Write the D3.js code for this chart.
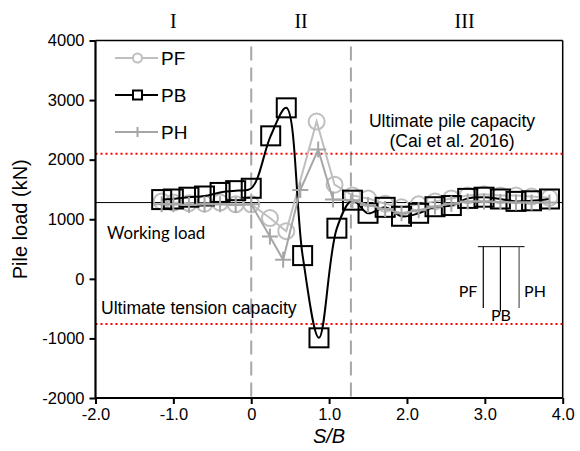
<!DOCTYPE html>
<html>
<head>
<meta charset="utf-8">
<script src="https://d3js.org/d3.v7.min.js"></script>
<style>
	body { margin: 0; background: #fff; }
	svg { display: block; }
</style>
</head>
<body>
<script>
	// PF = gray circles, PB = black squares, PH = gray plus
	var pfX = [-1.15, -1.0, -0.8, -0.6, -0.4, -0.2, 0.0, 0.24, 0.45, 0.84, 1.07, 1.3, 1.5, 1.72, 1.93, 2.15, 2.36, 2.57, 2.78, 2.99, 3.2, 3.4, 3.6, 3.83];
	var pfY = [1300, 1280, 1270, 1260, 1280, 1250, 1250, 1020, 800, 2640, 1580, 1400, 1350, 1260, 1200, 1250, 1300, 1350, 1400, 1420, 1400, 1400, 1380, 1360];
	var pbX = [-1.15, -1.0, -0.8, -0.6, -0.4, -0.2, 0.0, 0.25, 0.45, 0.66, 0.87, 1.1, 1.3, 1.5, 1.72, 1.93, 2.15, 2.36, 2.57, 2.78, 2.99, 3.2, 3.4, 3.6, 3.83];
	var pbY = [1330, 1340, 1370, 1390, 1450, 1480, 1520, 2400, 2870, 390, -990, 850, 1320, 1100, 1200, 1050, 1100, 1210, 1230, 1350, 1370, 1340, 1300, 1310, 1340];
	var phX = [-1.15, -1.0, -0.8, -0.6, -0.4, -0.2, 0.0, 0.24, 0.41, 0.63, 0.86, 1.05, 1.3, 1.5, 1.72, 1.93, 2.15, 2.36, 2.57, 2.78, 2.99, 3.2, 3.4, 3.6, 3.83];
	var phY = [1250, 1250, 1240, 1250, 1250, 1240, 1250, 710, 320, 1490, 2170, 1330, 1320, 1240, 1170, 1100, 1150, 1215, 1260, 1300, 1300, 1290, 1280, 1280, 1280];

	var xTicks = [-2, -1, 0, 1, 2, 3, 4];
	var xTickLabels = ["-2.0", "-1.0", "0", "1.0", "2.0", "3.0", "4.0"];
	var yTicks = [-2000, -1000, 0, 1000, 2000, 3000, 4000];
	var yTickLabels = ["-2000", "-1000", "0", "1000", "2000", "3000", "4000"];

	var workingLoad = 1280;
	var pileCapacity = 2100;
	var tensionCapacity = -760;
	var zoneBounds = [0, 1.28];
	var zoneNames = ["I", "II", "III"];
	var zoneCenters = [-1.0, 0.64, 2.74];

	// little pile sketch at lower right
	var pileNames = ["PF", "PB", "PH"];
	var pileX = [2.98, 3.2, 3.44];
	var pileTop = 540;
	var pileBottom = [-490, -550, -490];

	var width = 580, height = 451;
	var x = d3.scaleLinear().domain([-2, 4]).range([95.5, 562.7]);
	var y = d3.scaleLinear().domain([-2000, 4000]).range([398, 40.5]);

	var svg = d3.select("body").append("svg")
		.attr("width", width)
		.attr("height", height);

	var gray1 = "#bfbfbf", gray2 = "#a6a6a6";
	var sans = "Liberation Sans, Arial, sans-serif";

	// frame top + right
	svg.append("line").attr("x1", x(-2)).attr("x2", x(4)).attr("y1", y(4000)).attr("y2", y(4000))
		.attr("stroke", "#000").attr("stroke-width", 1.5);
	svg.append("line").attr("x1", x(4)).attr("x2", x(4)).attr("y1", y(4000)).attr("y2", y(-2000))
		.attr("stroke", "#000").attr("stroke-width", 1.5);

	// zone dividers
	svg.selectAll(".zone").data(zoneBounds).enter().append("line")
		.attr("x1", function(d){ return x(d); })
		.attr("x2", function(d){ return x(d); })
		.attr("y1", y(4000) + 6).attr("y2", y(-2000))
		.attr("stroke", gray2).attr("stroke-width", 2)
		.attr("stroke-dasharray", "14,7");

	svg.selectAll(".zname").data(zoneNames).enter().append("text")
		.attr("x", function(d, i){ return x(zoneCenters[i]); })
		.attr("y", 28)
		.attr("text-anchor", "middle")
		.attr("font-family", "Liberation Serif, serif")
		.attr("font-size", 20)
		.text(function(d){ return d; });

	// capacity lines
	[pileCapacity, tensionCapacity].forEach(function(v){
		svg.append("line").attr("x1", x(-2)).attr("x2", x(4)).attr("y1", y(v)).attr("y2", y(v))
			.attr("stroke", "#ff0000").attr("stroke-width", 2).attr("stroke-dasharray", "2,3");
	});
	svg.append("line").attr("x1", x(-2)).attr("x2", x(4)).attr("y1", y(workingLoad)).attr("y2", y(workingLoad))
		.attr("stroke", "#000").attr("stroke-width", 1);

	var txt = svg.append("g").attr("font-family", sans).attr("font-size", 17.6);
	txt.append("text").attr("x", 452).attr("y", 127).attr("text-anchor", "middle").text("Ultimate pile capacity");
	txt.append("text").attr("x", 452).attr("y", 147).attr("text-anchor", "middle").text("(Cai et al. 2016)");
	txt.append("text").attr("x", 101).attr("y", 314).text("Ultimate tension capacity");
	svg.append("text").attr("x", 107).attr("y", 239)
		.attr("font-family", "Lato, sans-serif").attr("font-size", 16.8).text("Working load");

	// pile sketch
	svg.append("line").attr("x1", x(2.91)).attr("x2", x(3.51)).attr("y1", y(pileTop)).attr("y2", y(pileTop))
		.attr("stroke", "#000").attr("stroke-width", 1);
	svg.selectAll(".pile").data(pileX).enter().append("line")
		.attr("x1", function(d){ return x(d); }).attr("x2", function(d){ return x(d); })
		.attr("y1", y(pileTop))
		.attr("y2", function(d, i){ return y(pileBottom[i]); })
		.attr("stroke", function(d, i){ return i == 2 ? "#555" : "#000"; })
		.attr("stroke-width", 1.2);
	var pileLabelX = [468, 501, 535];
	var pileLabelY = [297, 321, 297];
	svg.selectAll(".plab").data(pileNames).enter().append("text")
		.attr("x", function(d, i){ return pileLabelX[i]; })
		.attr("y", function(d, i){ return pileLabelY[i]; })
		.attr("text-anchor", "middle")
		.attr("font-family", "Lato, sans-serif").attr("font-size", 16)
		.text(function(d){ return d; });

	// series
	function pts(xs, ys){ return xs.map(function(d, i){ return [d, ys[i]]; }); }
	var pf = pts(pfX, pfY), pb = pts(pbX, pbY), ph = pts(phX, phY);

	var lineLin = d3.line().x(function(d){ return x(d[0]); }).y(function(d){ return y(d[1]); });
	var lineSmooth = d3.line().x(function(d){ return x(d[0]); }).y(function(d){ return y(d[1]); })
		.curve(d3.curveCatmullRom.alpha(0.5));

	svg.append("path").attr("d", lineLin(pf)).attr("fill", "none").attr("stroke", gray1).attr("stroke-width", 2);
	svg.selectAll(".pfm").data(pf).enter().append("circle")
		.attr("cx", function(d){ return x(d[0]); }).attr("cy", function(d){ return y(d[1]); })
		.attr("r", 8).attr("fill", "none").attr("stroke", gray1).attr("stroke-width", 2);

	svg.append("path").attr("d", lineSmooth(pb)).attr("fill", "none").attr("stroke", "#000").attr("stroke-width", 2);
	svg.selectAll(".pbm").data(pb).enter().append("rect")
		.attr("x", function(d){ return x(d[0]) - 9.5; }).attr("y", function(d){ return y(d[1]) - 9.5; })
		.attr("width", 19).attr("height", 19)
		.attr("fill", "none").attr("stroke", "#000").attr("stroke-width", 2);

	svg.append("path").attr("d", lineLin(ph)).attr("fill", "none").attr("stroke", gray2).attr("stroke-width", 2);
	svg.selectAll(".phm").data(ph).enter().append("path")
		.attr("d", function(d){
			var cx = x(d[0]), cy = y(d[1]);
			return "M" + (cx - 8) + "," + cy + "H" + (cx + 8) + "M" + cx + "," + (cy - 8) + "V" + (cy + 8);
		})
		.attr("stroke", gray2).attr("stroke-width", 2);

	// legend
	var leg = svg.append("g");
	var legY = [58, 95, 132];
	leg.append("line").attr("x1", 115).attr("x2", 158).attr("y1", legY[0]).attr("y2", legY[0]).attr("stroke", gray1).attr("stroke-width", 2);
	leg.append("circle").attr("cx", 137.5).attr("cy", legY[0]).attr("r", 4.5).attr("fill", "#fff").attr("stroke", gray1).attr("stroke-width", 2);
	leg.append("line").attr("x1", 115).attr("x2", 158).attr("y1", legY[1]).attr("y2", legY[1]).attr("stroke", "#000").attr("stroke-width", 2);
	leg.append("rect").attr("x", 133).attr("y", legY[1] - 4.5).attr("width", 9).attr("height", 9).attr("fill", "#fff").attr("stroke", "#000").attr("stroke-width", 2);
	leg.append("line").attr("x1", 115).attr("x2", 158).attr("y1", legY[2]).attr("y2", legY[2]).attr("stroke", gray2).attr("stroke-width", 2);
	leg.append("path").attr("d", "M132.5," + legY[2] + "H142.5M137.5," + (legY[2] - 5) + "V" + (legY[2] + 5)).attr("stroke", gray2).attr("stroke-width", 2);
	leg.selectAll("text").data(["PF", "PB", "PH"]).enter().append("text")
		.attr("x", 161).attr("y", function(d, i){ return legY[i] + 6.8; })
		.attr("font-family", sans).attr("font-size", 19)
		.text(function(d){ return d; });

	// axes
	var yAxis = d3.axisLeft(y).tickValues(yTicks).tickSize(6).tickPadding(5)
		.tickFormat(function(d, i){ return yTickLabels[i]; });
	var xAxis = d3.axisBottom(x).tickValues(xTicks).tickSize(6).tickPadding(4)
		.tickFormat(function(d, i){ return xTickLabels[i]; });

	var gy = svg.append("g").attr("transform", "translate(" + x(-2) + ",0)").call(yAxis);
	var gx = svg.append("g").attr("transform", "translate(0," + y(-2000) + ")").call(xAxis);
	[gx, gy].forEach(function(g){
		g.select(".domain").attr("stroke-width", 2.2);
		g.selectAll(".tick line").attr("stroke-width", 2);
		g.selectAll("text").attr("font-family", sans).attr("font-size", 16.5).attr("fill", "#000");
	});
	gy.select(".domain").attr("d", "M0," + y(4000) + "V" + y(-2000));
	gx.select(".domain").attr("d", "M" + x(-2) + ",0H" + x(4));

	svg.append("text")
		.attr("transform", "translate(27," + y(1000) + ") rotate(-90)")
		.attr("text-anchor", "middle")
		.attr("font-family", sans).attr("font-size", 20)
		.text("Pile load (kN)");
	svg.append("text")
		.attr("x", x(1)).attr("y", 443)
		.attr("text-anchor", "middle")
		.attr("font-family", sans).attr("font-size", 20)
		.attr("font-style", "italic")
		.text("S/B");
</script>
</body>
</html>
